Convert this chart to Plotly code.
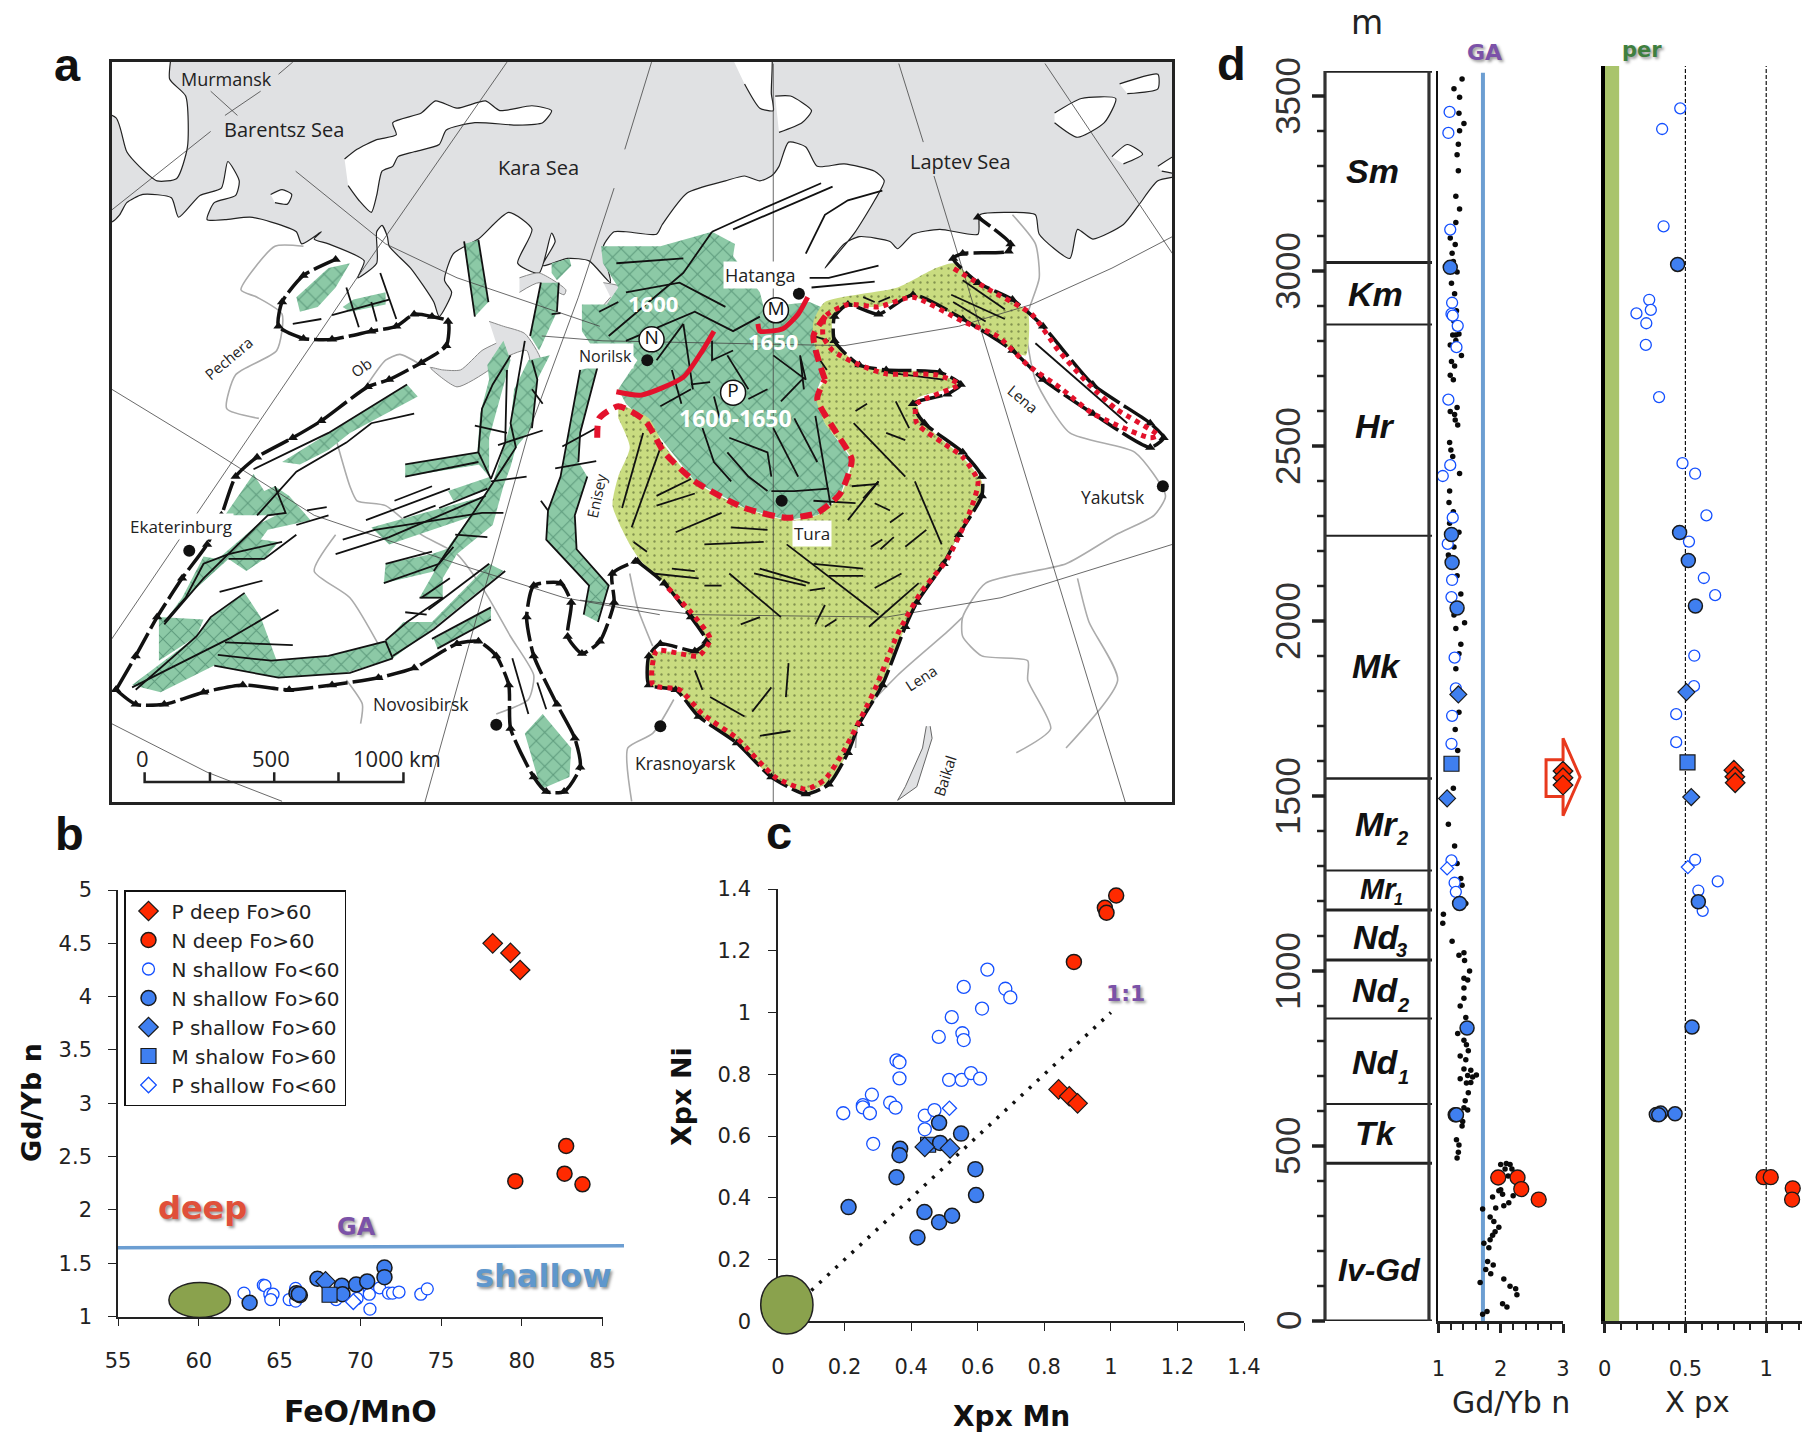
import plotly.graph_objects as go

W, H = 1802, 1435
FONT = "DejaVu Sans"
MAPF = "Open Sans"
ARIAL = "Liberation Sans"
BLUE = "#3f7ff0"
RED = "#ff2a00"
OPEN = "#1450ff"
INK = "#1a1a1a"

# ---------- panel b : FeO/MnO vs Gd/Yb n ----------
b_p_deep_x = [78.2, 79.3, 79.9]
b_p_deep_y = [4.50, 4.41, 4.25]
b_n_deep_x = [82.75, 79.6, 82.65, 83.76]
b_n_deep_y = [2.60, 2.27, 2.34, 2.24]
b_n_open_x = [62.8, 64.0, 64.1, 64.4, 64.6, 64.46, 65.6, 66.0, 66.0, 68.5, 69.8, 70.56, 70.56, 70.6, 71.2, 71.75, 72.0, 72.4, 73.75, 74.15]
b_n_open_y = [1.22, 1.295, 1.29, 1.21, 1.21, 1.16, 1.16, 1.265, 1.145, 1.16, 1.17, 1.245, 1.21, 1.07, 1.27, 1.22, 1.22, 1.23, 1.21, 1.26]
b_n_fill_x = [63.15, 66.05, 66.26, 66.2, 67.35, 68.86, 68.9, 69.75, 70.43, 71.5, 71.5]
b_n_fill_y = [1.13, 1.22, 1.20, 1.21, 1.355, 1.29, 1.21, 1.30, 1.33, 1.46, 1.37]
b_p_fill_x = [67.85]
b_p_fill_y = [1.33]
b_m_fill_x = [68.1]
b_m_fill_y = [1.205]
b_p_open_x = [69.57]
b_p_open_y = [1.14]
b_ga_x = [55, 86.33]
b_ga_y = [1.646, 1.665]

# ---------- panel c : Xpx Mn vs Xpx Ni ----------
c_n_deep_x = [1.016, 0.982, 0.987, 0.889]
c_n_deep_y = [1.379, 1.339, 1.323, 1.164]
c_p_deep_x = [0.843, 0.875, 0.90]
c_p_deep_y = [0.751, 0.729, 0.706]
c_n_open_x = [0.196, 0.255, 0.255, 0.282, 0.276, 0.286, 0.337, 0.353, 0.356, 0.365, 0.365, 0.441, 0.441, 0.47, 0.483, 0.522, 0.554, 0.558, 0.558, 0.514, 0.552, 0.58, 0.607, 0.613, 0.629, 0.683, 0.698]
c_n_open_y = [0.674, 0.70, 0.693, 0.734, 0.674, 0.575, 0.708, 0.692, 0.845, 0.839, 0.787, 0.666, 0.622, 0.684, 0.921, 0.985, 0.933, 0.911, 1.083, 0.782, 0.782, 0.804, 0.786, 1.013, 1.139, 1.077, 1.049]
c_p_open_x = [0.515]
c_p_open_y = [0.69]
c_n_fill_x = [0.212, 0.367, 0.365, 0.356, 0.484, 0.55, 0.487, 0.593, 0.595, 0.44, 0.484, 0.523, 0.419]
c_n_fill_y = [0.37, 0.559, 0.538, 0.467, 0.643, 0.608, 0.578, 0.493, 0.409, 0.354, 0.321, 0.342, 0.272]
c_p_fill_x = [0.441, 0.517]
c_p_fill_y = [0.565, 0.56]
c_m_fill_x = [0.451]
c_m_fill_y = [0.572]
c_line_x = [0.1, 1.0]
c_line_y = [0.1, 1.0]

# ---------- panel d : section ----------
strat_bounds = [0, 451, 620, 864, 1031, 1174, 1287, 1550, 2243, 2847, 3024, 3571]
strat_width = [3, 3, 2, 2, 3, 3, 2, 2.5, 2, 2, 3, 3.5]
d_dots_x = [1.36, 1.38, 1.25, 1.34, 1.33, 1.41, 1.34, 1.32, 1.30, 1.32, 1.28, 1.34, 1.28, 1.19, 1.27, 1.22, 1.24, 1.30, 1.21, 1.26, 1.24, 1.29, 1.25, 1.27, 1.23, 1.28, 1.33, 1.28, 1.19, 1.37, 1.21, 1.26, 1.19, 1.24, 1.30, 1.19, 1.26, 1.27, 1.31, 1.18, 1.20, 1.23, 1.34, 1.18, 1.17, 1.24, 1.18, 1.33, 1.25, 1.16, 1.19, 1.30, 1.36, 1.25, 1.42, 1.28, 1.36, 1.33, 1.28, 1.33,
            1.27, 1.31, 1.24, 1.16, 1.26, 1.30, 1.36, 1.38, 1.44, 1.08, 1.07, 1.22, 1.41, 1.33, 1.42, 1.50, 1.41, 1.47, 1.41, 1.41, 1.35, 1.44, 1.31, 1.41, 1.45, 1.48, 1.35, 1.44, 1.41, 1.52, 1.61, 1.47, 1.35, 1.55, 1.45, 1.52, 1.48, 1.43, 1.41, 1.47, 1.36, 1.39, 1.38, 1.29, 1.33, 1.32, 1.30,
            2.0, 2.09, 2.15, 2.07, 2.18, 2.12, 2.0, 2.03, 1.97, 1.87, 2.2, 2.13, 2.05, 1.92, 1.71, 1.83, 1.89, 1.97, 1.91, 1.87, 1.83, 1.73, 1.81, 1.79, 1.88, 1.76, 1.84, 1.67, 2.05, 2.15, 2.24, 2.26, 2.03, 2.10, 1.71, 1.78]
d_dots_m = [3573, 3548, 3520, 3496, 3450, 3421, 3400, 3362, 3332, 3286, 3213, 3177, 3138, 3094, 3075, 3050, 3027, 2997, 2965, 2935, 2902, 2886, 2856, 2837, 2817, 2817, 2820, 2801, 2788, 2758, 2741, 2728, 2702, 2689, 2610, 2598, 2590, 2574, 2560, 2510, 2488, 2470, 2421, 2371, 2338, 2312, 2279, 2253, 2211, 2188, 2159, 2129, 2077, 2017, 1995, 1978, 1933, 1906, 1863, 1739,
            1690, 1630, 1522, 1419, 1357, 1307, 1264, 1245, 1193, 1162, 1136, 1085, 1052, 1045, 1030, 1000, 979, 974, 951, 922, 900, 867, 821, 802, 789, 772, 757, 746, 720, 716, 703, 701, 692, 697, 680, 681, 652, 629, 609, 603, 586, 570, 557, 518, 503, 482, 466,
            447, 450, 447, 434, 434, 414, 375, 362, 372, 354, 358, 338, 329, 323, 320, 297, 284, 268, 255, 245, 232, 222, 209, 170, 160, 147, 135, 110, 120, 99, 92, 75, 49, 40, 19, 27]
d_open_gd = [1.18, 1.16, 1.19, 1.22, 1.21, 1.23, 1.31, 1.29, 1.16, 1.19, 1.07, 1.23, 1.15, 1.22, 1.21, 1.26, 1.28, 1.22, 1.21, 1.21, 1.26, 1.28]
d_open_gd_m = [3454, 3394, 3118, 2909, 2877, 2872, 2843, 2782, 2632, 2445, 2414, 2295, 2220, 2117, 2068, 1895, 1807, 1729, 1649, 1316, 1252, 1226]
d_fill_gd = [1.19, 1.21, 1.22, 1.30, 1.34, 1.46, 1.27, 1.29]
d_fill_gd_m = [3010, 2247, 2167, 2037, 1193, 837, 589, 589]
d_pfill_gd = [1.32, 1.14]
d_pfill_gd_m = [1790, 1493]
d_mfill_gd = [1.21]
d_mfill_gd_m = [1592]
d_popen_gd = [1.14]
d_popen_gd_m = [1293]
d_ndeep_gd = [1.96, 2.27, 2.33, 2.61]
d_ndeep_gd_m = [410, 410, 377, 347]
d_pdeep_gd = [3.0, 3.0, 3.0]
d_pdeep_gd_m = [1571, 1552, 1531]
d_ga_x = [1.715, 1.715]
d_ga_m = [0, 3566]

d_open_x = [0.468, 0.356, 0.365, 0.276, 0.286, 0.197, 0.258, 0.255, 0.337, 0.482, 0.56, 0.63, 0.522, 0.614, 0.684, 0.555, 0.553, 0.443, 0.443, 0.56, 0.70, 0.58, 0.607]
d_open_m = [3465, 3406, 3128, 2918, 2889, 2879, 2851, 2789, 2640, 2451, 2421, 2302, 2227, 2123, 2074, 1901, 1814, 1734, 1654, 1318, 1256, 1230, 1172]
d_fill_x = [0.452, 0.464, 0.518, 0.562, 0.58, 0.541, 0.32, 0.347, 0.335, 0.436]
d_fill_m = [3019, 2253, 2173, 2043, 1198, 840, 590, 594, 589, 592]
d_pfill_x = [0.506, 0.536]
d_pfill_m = [1797, 1497]
d_mfill_x = [0.513]
d_mfill_m = [1596]
d_popen_x = [0.515]
d_popen_m = [1297]
d_ndeep_x = [0.984, 1.028, 1.164, 1.16]
d_ndeep_m = [411, 411, 379, 347]
d_pdeep_x = [0.80, 0.806, 0.808]
d_pdeep_m = [1574, 1555, 1538]
d_per_x = [0, 0.09, 0.09, 0]
d_per_m = [0, 0, 3586, 3586]
d_dash_half_x = [0.5, 0.5, None, 1.0, 1.0]
d_dash_half_m = [0, 3586, None, 0, 3586]

ticks_m = [0, 500, 1000, 1500, 2000, 2500, 3000, 3500]
ticks_m_minor = [100, 200, 300, 400, 600, 700, 800, 900, 1100, 1200, 1300, 1400, 1600, 1700, 1800, 1900, 2100, 2200, 2300, 2400, 2600, 2700, 2800, 2900, 3100, 3200, 3300, 3400]
ticks_b_x = [55, 60, 65, 70, 75, 80, 85]
ticks_b_y = [1, 1.5, 2, 2.5, 3, 3.5, 4, 4.5, 5]
ticks_c = [0, 0.2, 0.4, 0.6, 0.8, 1, 1.2, 1.4]

# ---------- panel a : map features ----------
# W_* lists use the western crop grid, E_* lists the eastern crop grid
def wx(p): return 100 + 0.357 * p[0], 50 + 0.4847 * p[1]
def ex(p): return 580 + 0.3827 * p[0], 50 + 0.4847 * p[1]

def trace_xy(lines, f):
    xs, ys = [], []
    for ln in lines:
        for p in ln:
            a, b = f(p)
            xs.append(a); ys.append(b)
        xs.append(None); ys.append(None)
    return xs, ys

def merge(*pairs):
    xs, ys = [], []
    for a, b in pairs:
        xs += a; ys += b
    return xs, ys

W_COAST = [(33, 355), (55, 340), (75, 315), (120, 298), (200, 305), (220, 345), (280, 300), (340, 285), (358, 230), (390, 270), (380, 300), (320, 315), (300, 350), (350, 350), (420, 345), (480, 355), (550, 375), (565, 400), (620, 375), (600, 390), (640, 400), (740, 435), (722, 470), (775, 440), (775, 375), (790, 362), (805, 385), (810, 405), (870, 450), (935, 520), (950, 550), (985, 500), (965, 475), (990, 420), (1060, 390), (1145, 335), (1210, 370), (1170, 440), (1230, 460), (1265, 378), (1275, 395), (1240, 445), (1310, 430), (1370, 435), (1430, 480), (1410, 405), (1440, 375)]
E_COAST = [(120, 375), (200, 380), (215, 360), (280, 295), (380, 270), (430, 260), (470, 270), (500, 260), (520, 240), (545, 190), (590, 200), (620, 240), (690, 235), (770, 250), (795, 270), (770, 310), (715, 380), (640, 450), (690, 400), (730, 385), (810, 395), (830, 410), (870, 380), (940, 370), (1040, 380), (1045, 340), (1120, 335), (1190, 340), (1200, 380), (1280, 430), (1300, 370), (1340, 390), (1420, 360), (1460, 320), (1510, 270), (1600, 250)]
sea_x, sea_y = trace_xy([W_COAST], wx)
sea_x2, sea_y2 = trace_xy([E_COAST], ex)
sea_x = [80] + sea_x[:-1] + sea_x2[:-1] + [1240, 1240, 60, 60]
sea_y = [sea_y[0] + 8] + sea_y[:-1] + sea_y2[:-1] + [20, 20, 20, sea_y[0] + 8]

W_GULFS = [[(1090, 560), (1130, 570), (1190, 585), (1235, 640), (1215, 680), (1195, 620), (1120, 640), (1090, 660), (1000, 695), (925, 655), (960, 660), (1010, 660), (1070, 620), (1110, 605)],
           [(1175, 470), (1230, 460), (1305, 495), (1300, 505), (1230, 480), (1175, 500)],
           [(1410, 480), (1465, 490), (1450, 515), (1400, 545), (1420, 570), (1395, 545), (1430, 510)]]
W_ISLANDS = [[(20, -40), (200, -40), (195, 60), (240, 95), (245, 200), (215, 265), (160, 270), (110, 240), (75, 210), (45, 140), (-40, 120)],
             [(685, 225), (720, 205), (775, 185), (830, 175), (820, 150), (900, 130), (940, 105), (1000, 120), (1080, 105), (1120, 125), (1210, 115), (1265, 125), (1240, 150), (1170, 155), (1050, 150), (970, 165), (950, 195), (880, 210), (835, 220), (820, 240), (790, 250), (775, 300), (760, 335), (725, 310), (695, 280)],
             [(478, 298), (510, 288), (537, 298), (525, 318), (490, 315)]]
E_ISLANDS = [[(370, -30), (495, -30), (500, 90), (505, 125), (470, 120), (430, 70)],
             [(510, 95), (550, 95), (605, 125), (580, 150), (520, 170)],
             [(1240, 130), (1310, 100), (1400, 100), (1370, 150), (1300, 180), (1240, 150)],
             [(1410, 70), (1510, 50), (1510, 80), (1430, 90)],
             [(1390, 220), (1430, 195), (1470, 215), (1420, 235)],
             [(1510, 240), (1590, 205), (1590, 255), (1520, 250)]]
E_BAIKAL = [[(915, 1395), (920, 1420), (880, 1520), (830, 1548), (850, 1520), (895, 1440), (905, 1395)]]

W_GRID = [[(548, 250), (800, 400), (1000, 470), (1400, 570)], [(33, 700), (300, 820), (600, 960), (1000, 1060), (1300, 1130), (1568, 1165)],
          [(33, 1390), (300, 1490), (510, 1550)], [(1140, 25), (720, 470), (33, 1215)], [(1545, 25), (1470, 205)], [(1440, 285), (1340, 510), (1200, 790), (910, 1552)],
          [(310, 85), (385, 135)], [(450, 85), (350, 135)], [(310, 168), (33, 330)], [(540, 25), (500, 50)]]
E_GRID = [[(-100, 590), (60, 600), (690, 610), (990, 570), (1180, 525), (1390, 450), (1548, 385)], [(0, 1135), (300, 1165), (800, 1170), (1100, 1130), (1548, 1020)],
          [(505, 28), (505, 1552)], [(833, 28), (897, 190)], [(925, 260), (1425, 1552)], [(1215, 28), (1548, 420)]]
W_RIVERS = [[(570, 405), (490, 405), (395, 495), (440, 510), (510, 545), (495, 620), (380, 670), (355, 740), (445, 760)],
            [(740, 700), (800, 640), (840, 628), (900, 650)], [(660, 800), (700, 900), (720, 930), (800, 940), (900, 1000), (1000, 1040), (1080, 1120), (1150, 1210), (1215, 1290), (1200, 1340), (1110, 1370)],
            [(660, 1000), (600, 1075), (700, 1130), (790, 1240)], [(690, 1300), (735, 1350), (730, 1390)]]
E_RIVERS = [[(130, 1080), (150, 1150), (190, 1230)], [(245, 1340), (190, 1410), (125, 1440), (135, 1550)],
            [(1130, 340), (1190, 400), (1200, 470), (1165, 560), (1190, 680), (1280, 790), (1450, 830), (1530, 920), (1500, 960), (1400, 1000), (1270, 1060), (1060, 1100), (1000, 1170), (1000, 1210), (1050, 1250), (1170, 1260), (1170, 1300), (1230, 1400), (1140, 1450)],
            [(1300, 1090), (1330, 1180), (1405, 1300), (1270, 1440)], [(720, 1440), (730, 1380), (830, 1290), (960, 1200), (1000, 1170)],
            [(200, 1250), (240, 1275), (380, 1265), (500, 1275), (530, 1245), (605, 1235), (610, 1330), (570, 1350), (585, 1390), (630, 1400), (635, 1500)]]

W_GREEN = [[(550, 510), (640, 450), (700, 440), (660, 490), (610, 530), (560, 540)],
           [(680, 530), (710, 515), (800, 500), (800, 525), (700, 540)],
           [(1020, 400), (1060, 392), (1088, 520), (1050, 550)],
           [(90, 1310), (270, 1210), (310, 1170), (405, 1120), (450, 1170), (495, 1260), (640, 1250), (800, 1220), (850, 1180), (930, 1180), (1090, 1060), (1130, 1075), (930, 1195), (820, 1255), (690, 1285), (500, 1295), (320, 1270), (170, 1325)],
           [(165, 1170), (290, 1175), (270, 1210), (165, 1260)],
           [(510, 850), (640, 790), (860, 690), (890, 715), (700, 790), (640, 825), (560, 855)],
           [(350, 960), (430, 875), (460, 910), (490, 900), (530, 920), (590, 970), (470, 990), (450, 1010), (500, 1015), (460, 1050), (410, 1075), (360, 1050), (240, 1130), (180, 1180), (230, 1130), (290, 1045), (330, 1050), (440, 980), (520, 950), (490, 960)],
           [(1130, 600), (1150, 640), (1120, 720), (1090, 800), (1090, 880), (1055, 850), (1065, 750), (1090, 680), (1085, 650)],
           [(1200, 640), (1260, 630), (1225, 680), (1210, 780), (1165, 820), (1100, 895), (1135, 810), (1150, 770), (1160, 700)],
           [(1235, 480), (1285, 480), (1280, 540), (1230, 620), (1205, 590)],
           [(1265, 440), (1315, 430), (1320, 445), (1280, 475), (1265, 460)],
           [(855, 855), (1060, 830), (1065, 855), (855, 880)],
           [(1100, 895), (1165, 820), (1150, 860), (1130, 900), (1100, 980), (1000, 1040), (960, 1090), (960, 1130), (895, 1130), (980, 1020), (1050, 950)],
           [(760, 985), (860, 965), (1080, 920), (1090, 950), (810, 1020)],
           [(975, 910), (1095, 880), (1095, 905), (990, 930)],
           [(800, 1060), (930, 1040), (990, 1025), (940, 1075), (795, 1100)],
           [(935, 1215), (1095, 1150), (1095, 1175), (945, 1235)],
           [(1345, 660), (1395, 650), (1345, 790), (1340, 850), (1365, 880), (1330, 960), (1335, 1030), (1425, 1105), (1395, 1180), (1355, 1165), (1370, 1105), (1250, 1010), (1255, 950), (1290, 880), (1310, 800)],
           [(1190, 1410), (1240, 1370), (1320, 1440), (1315, 1500), (1235, 1525)]]
E_GREEN = [[(5, 525), (70, 525), (100, 490), (60, 440), (55, 405), (210, 405), (345, 375), (405, 400), (400, 425), (470, 500), (480, 530), (600, 520), (630, 530), (610, 600), (640, 660), (615, 710), (640, 770), (710, 845), (680, 920), (620, 960), (540, 970), (430, 945), (300, 890), (200, 790), (120, 730), (100, 700), (150, 640), (115, 610), (30, 610), (5, 580)]]
E_YELLOW = [[(100, 730), (180, 760), (215, 810), (300, 890), (430, 945), (540, 970), (620, 960), (680, 920), (710, 845), (640, 770), (615, 710), (640, 680), (610, 600), (610, 560), (640, 520), (830, 490), (930, 450), (975, 440), (1040, 480), (1130, 520), (1170, 540), (1165, 630), (1130, 620), (1080, 590), (1000, 555), (870, 510), (780, 530), (700, 530), (660, 550), (665, 600), (730, 650), (800, 660), (930, 665), (990, 690), (960, 700), (880, 720), (900, 770), (1000, 840), (1050, 890), (1050, 920), (990, 1000), (950, 1060), (880, 1140), (850, 1190), (790, 1310), (730, 1390), (700, 1450), (650, 1510), (590, 1530), (500, 1500), (410, 1430), (310, 1370), (250, 1320), (185, 1310), (180, 1245), (290, 1240), (330, 1220), (290, 1170), (220, 1100), (160, 1055), (130, 1020), (85, 940), (100, 880), (130, 820), (100, 760)]]

W_FAULTS = [[(430, 865), (640, 790), (860, 690)], [(440, 960), (550, 870), (690, 810), (760, 770), (880, 750)], [(180, 1185), (290, 1090), (470, 960), (520, 955), (490, 900)],
            [(100, 1320), (270, 1210), (310, 1170), (405, 1120)], [(335, 1118), (455, 1095)], [(90, 1315), (360, 1215), (500, 1155)], [(350, 1222), (540, 1228)],
            [(330, 1248), (480, 1260), (640, 1250), (800, 1220), (820, 1255)], [(320, 1270), (500, 1295), (700, 1285), (820, 1255)], [(800, 1218), (860, 1180), (960, 1130)],
            [(820, 1250), (935, 1195), (1135, 1075)], [(920, 1155), (1090, 1060)], [(930, 1215), (1095, 1150)], [(945, 1235), (1095, 1175)],
            [(825, 930), (930, 900)], [(745, 970), (980, 905)], [(850, 965), (940, 940)], [(950, 945), (1085, 905)], [(855, 855), (1060, 830)], [(855, 880), (1060, 850)],
            [(680, 1010), (770, 990), (1070, 955), (1130, 955)], [(660, 1040), (810, 1005), (1080, 920)], [(800, 1060), (930, 1035)], [(795, 1100), (950, 1060), (990, 1025)],
            [(1050, 775), (1140, 790)], [(1115, 815), (1240, 785)], [(1095, 890), (1195, 880)], [(995, 1000), (1085, 1005)],
            [(1150, 630), (1100, 690), (1070, 740), (1060, 830), (1095, 885), (1135, 810), (1140, 660)], [(1190, 600), (1150, 770), (1165, 820), (1100, 895), (1050, 950), (985, 1020), (935, 1075)],
            [(1210, 640), (1225, 680), (1210, 780)], [(1210, 700), (1240, 730)], [(895, 1130), (960, 1130)], [(855, 1160), (915, 1165)], [(980, 1090), (900, 1130)],
            [(1020, 395), (1050, 550)], [(1060, 392), (1088, 520)], [(1235, 480), (1205, 590)], [(1285, 480), (1280, 540)], [(1265, 545), (1290, 543)],
            [(1345, 660), (1310, 800), (1290, 880), (1255, 950), (1250, 1010), (1370, 1105), (1355, 1165)], [(1395, 650), (1345, 790), (1340, 850)], [(1365, 880), (1330, 960), (1335, 1030), (1425, 1105), (1395, 1180)], [(1235, 930), (1255, 950)],
            [(1295, 818), (1390, 780)], [(1275, 863), (1390, 848)], [(540, 565), (620, 555)], [(650, 547), (810, 515)], [(690, 490), (725, 572)], [(785, 460), (830, 555)], [(760, 520), (775, 560)],
            [(1155, 1255), (1200, 1370)], [(1225, 1305), (1250, 1360)], [(580, 950), (635, 943)], [(550, 980), (640, 960)], [(180, 1180), (240, 1130), (290, 1060), (360, 1040), (510, 1015)], [(360, 1050), (460, 1050), (550, 1000)]]
E_FAULTS = [[(345, 375), (470, 330), (630, 275)], [(400, 370), (660, 282)], [(590, 420), (640, 340), (700, 310), (790, 290)], [(600, 470), (650, 470), (780, 445)], [(605, 490), (770, 478)],
            [(95, 440), (270, 430)], [(345, 375), (270, 460), (180, 520), (75, 590)], [(50, 540), (100, 520)], [(120, 500), (260, 480), (380, 530)], [(120, 600), (240, 560), (300, 540), (400, 580), (470, 550)],
            [(200, 640), (270, 565)], [(270, 565), (295, 700)], [(345, 600), (345, 640), (400, 620)], [(385, 630), (440, 700)], [(505, 630), (590, 680), (575, 630), (585, 700)], [(440, 720), (490, 700)], [(525, 725), (580, 680)],
            [(240, 660), (265, 730)], [(290, 690), (340, 685)], [(350, 715), (365, 760)], [(210, 735), (290, 700)], [(320, 780), (350, 850), (395, 890)], [(390, 800), (490, 830), (500, 880)], [(505, 780), (570, 880)], [(385, 830), (440, 880), (490, 910)],
            [(560, 760), (620, 850)], [(615, 755), (655, 940)], [(500, 910), (560, 910), (650, 905)], [(610, 930), (720, 935)], [(700, 970), (780, 890)], [(710, 900), (780, 895)],
            [(165, 790), (110, 945)], [(215, 810), (135, 985)], [(200, 920), (290, 885)], [(200, 940), (300, 915)], [(250, 995), (370, 955)], [(395, 985), (490, 990)], [(325, 1020), (480, 1015)], [(140, 1015), (175, 1035)],
            [(190, 1080), (310, 1090)], [(240, 1070), (300, 1075)], [(325, 1105), (370, 1105)], [(390, 1080), (525, 1170)], [(470, 1070), (600, 1100)], [(455, 1080), (590, 1105)], [(600, 1115), (640, 1110)], [(540, 1020), (780, 1165)],
            [(610, 1060), (740, 1070)], [(650, 1085), (740, 1085)], [(755, 1190), (885, 1100)], [(770, 1110), (840, 1080)], [(640, 1145), (615, 1185)], [(640, 1190), (670, 1175)], [(420, 1185), (470, 1170)],
            [(715, 770), (850, 880)], [(720, 745), (750, 730)], [(800, 790), (850, 805)], [(825, 725), (860, 780)], [(875, 890), (945, 1020)], [(740, 925), (780, 890)], [(770, 935), (810, 950)], [(810, 975), (845, 955)], [(850, 1025), (905, 990)], [(785, 1030), (820, 1005)], [(760, 1025), (790, 1010)],
            [(300, 1280), (320, 1320)], [(340, 1335), (430, 1375)], [(450, 1365), (500, 1315)], [(545, 1265), (538, 1335)], [(470, 1415), (550, 1405)], [(970, 505), (1110, 555)], [(975, 520), (1060, 560)], [(1000, 475), (1110, 535)], [(1190, 605), (1430, 770)],
            [(740, 510), (770, 520)], [(780, 520), (810, 510)], [(610, 590), (650, 600)], [(610, 620), (645, 660)], [(800, 665), (950, 680)]]

W_RIFT = [[(45, 1320), (100, 1350), (180, 1350), (290, 1325), (400, 1310), (530, 1320), (650, 1310), (780, 1295), (880, 1275), (1000, 1225), (1060, 1220), (1110, 1250), (1145, 1310), (1150, 1400), (1215, 1500), (1250, 1530), (1300, 1530), (1345, 1480), (1330, 1420), (1280, 1350), (1215, 1250), (1195, 1170), (1215, 1105), (1290, 1100), (1320, 1140), (1310, 1210), (1350, 1245), (1400, 1220), (1440, 1140), (1435, 1080), (1500, 1055)],
          [(45, 1320), (100, 1250), (160, 1170), (230, 1090), (300, 1020), (340, 960), (380, 880), (440, 840), (540, 800), (620, 765), (750, 695), (810, 680), (900, 645), (970, 610), (975, 560), (930, 550), (880, 545), (830, 570), (760, 580), (650, 597), (570, 595), (500, 570), (510, 520), (570, 465), (660, 432)]]
E_RIFT = [[(150, 1055), (220, 1100), (290, 1170), (330, 1220), (300, 1240), (210, 1225), (180, 1250), (180, 1310), (250, 1320), (310, 1375), (410, 1430), (500, 1500), (590, 1535), (650, 1515), (700, 1450), (730, 1390), (790, 1310), (850, 1190), (880, 1140), (950, 1060), (990, 1000), (1050, 920), (1050, 880), (1000, 830), (900, 770), (870, 730), (960, 710), (995, 690), (940, 665), (800, 660), (730, 650), (665, 600), (665, 550), (700, 525), (780, 545), (870, 505), (1000, 555), (1130, 620), (1210, 680), (1340, 750), (1490, 820), (1525, 800), (1490, 770), (1340, 690), (1210, 570), (1130, 515), (1040, 480), (975, 430), (1000, 420), (1120, 415), (1125, 400), (1040, 345)]]
E_RED_DOT = [[(230, 1110), (290, 1160), (340, 1215), (310, 1250), (200, 1240), (190, 1310), (260, 1320), (320, 1370), (410, 1420), (510, 1500), (590, 1525), (640, 1505), (690, 1445), (770, 1320), (830, 1205), (890, 1120), (960, 1050), (1020, 950), (1040, 890), (1000, 840), (880, 770), (880, 730), (990, 690), (930, 670), (800, 668), (730, 650), (660, 620), (635, 590), (640, 550), (700, 525), (780, 530), (870, 510), (1000, 560), (1090, 590), (1170, 650), (1260, 700), (1340, 750), (1490, 800), (1510, 795), (1400, 740), (1330, 690), (1250, 620), (1180, 545), (1070, 495), (975, 450)]]
E_RED_DASH = [[(45, 800), (50, 760), (100, 735), (170, 765), (220, 830), (300, 890), (430, 945), (540, 965), (620, 955), (680, 915), (710, 845), (670, 790), (620, 720), (640, 680)], [(640, 680), (610, 590), (650, 540)]]
E_RED_SOLID = [[(95, 705), (160, 712), (270, 675), (320, 620), (350, 580)], [(465, 565), (470, 580), (530, 575), (570, 545), (595, 510)]]
W_TOWNS = [(250, 1033), (1533, 640), (1110, 1392)]
E_TOWNS = [(210, 1395), (527, 930), (1523, 900), (572, 503)]
E_SITES = [(187, 597), (512, 537), (400, 707)]
SITE_NAMES = ["N", "M", "P"]
W_SCALE = [[(125, 1490), (125, 1510), (308, 1510), (308, 1490), (308, 1510), (488, 1510), (488, 1490), (488, 1510), (668, 1510), (668, 1490), (668, 1510), (850, 1510), (850, 1490)]]

fig = go.Figure()

def mp(xy, name="map", **kw):
    fig.add_trace(go.Scatter(x=xy[0], y=xy[1], xaxis="x", yaxis="y", showlegend=False, hoverinfo="skip", cliponaxis=True, **kw))

LAND = "#ffffff"
SP = dict(shape="spline", smoothing=0.6)
mp((sea_x, sea_y), mode="lines", fill="toself", fillcolor="#e0e1e3", line=dict(color="#222", width=1.2, **SP))
mp(trace_xy(W_GULFS, wx), mode="lines", fill="toself", fillcolor="#e0e1e3", line=dict(color="#888", width=1, **SP))
mp(merge(trace_xy(W_ISLANDS, wx), trace_xy(E_ISLANDS, ex)), mode="lines", fill="toself", fillcolor=LAND, line=dict(color="#222", width=1.2, **SP))
mp(trace_xy(E_BAIKAL, ex), mode="lines", fill="toself", fillcolor="#e0e1e3", line=dict(color="#666", width=1))
mp(merge(trace_xy(W_RIVERS, wx), trace_xy(E_RIVERS, ex)), mode="lines", line=dict(color="#ababab", width=1.6, **SP))
mp(merge(trace_xy(W_GREEN, wx), trace_xy(E_GREEN, ex)), mode="lines", fill="toself", line=dict(width=0),
   fillcolor="#8cc9a6", fillpattern=dict(shape="x", size=12, solidity=0.16, fgcolor="#2e6b52", bgcolor="#8cc9a6"))
mp(trace_xy(E_YELLOW, ex), mode="lines", fill="toself", line=dict(width=0, **SP),
   fillcolor="#c9dc80", fillpattern=dict(shape=".", size=7, solidity=0.09, fgcolor="#3b4a1f", bgcolor="#c9dc80"))
mp(merge(trace_xy(W_GRID, wx), trace_xy(E_GRID, ex)), mode="lines", line=dict(color="#444", width=0.8))
mp(merge(trace_xy(W_FAULTS, wx), trace_xy(E_FAULTS, ex)), mode="lines", line=dict(color="#111", width=1.8))
rift = merge(trace_xy(W_RIFT, wx), trace_xy(E_RIFT, ex))
mp(rift, mode="lines", line=dict(color="#111", width=3.5, dash="30px,5px", **SP))
mp(rift, mode="markers", marker=dict(symbol="triangle-up", size=9, color="#111"))
mp(trace_xy(E_RED_DOT, ex), mode="lines", line=dict(color="#e3122c", width=5, dash="5px,5px", **SP))
mp(trace_xy(E_RED_DASH, ex), mode="lines", line=dict(color="#e3122c", width=6, dash="12px,7px", **SP))
mp(trace_xy(E_RED_SOLID, ex), mode="lines", line=dict(color="#e3122c", width=5, **SP))
mp(merge(trace_xy([W_TOWNS], wx), trace_xy([E_TOWNS], ex)), mode="markers", marker=dict(size=12, color="#111"))
mp(trace_xy(W_SCALE, wx), mode="lines", line=dict(color="#222", width=2.5))
sx, sy = trace_xy([E_SITES], ex)
mp((sx[:-1], sy[:-1]), mode="markers+text", text=SITE_NAMES, textposition="middle center", textfont=dict(family=MAPF, size=19, color="#111"),
   marker=dict(size=25, color="white", line=dict(color="#111", width=1.5)))

def pts(x, y, ax, sym, size, color, lw, lc, name=None, rank=None, clip=False):
    fig.add_trace(go.Scatter(x=x, y=y, xaxis=ax[0], yaxis=ax[1], mode="markers", name=name or "", showlegend=name is not None,
                             legendgroup=name, legendrank=rank or 1000, cliponaxis=clip, hoverinfo="skip",
                             marker=dict(symbol=sym, size=size, color=color, line=dict(color=lc, width=lw))))

# panel b
fig.add_trace(go.Scatter(x=b_ga_x, y=b_ga_y, xaxis="x7", yaxis="y2", mode="lines", line=dict(color="#6c9ed2", width=3.5), showlegend=False, cliponaxis=False, hoverinfo="skip"))
AB = ("x2", "y2")
pts(b_n_open_x, b_n_open_y, AB, "circle", 12, "white", 1.3, OPEN, "N shallow Fo<60", 3)
pts(b_n_fill_x, b_n_fill_y, AB, "circle", 15, BLUE, 1.5, INK, "N shallow Fo>60", 4)
pts(b_p_fill_x, b_p_fill_y, AB, "diamond", 15, BLUE, 1.2, INK, "P shallow Fo>60", 5)
pts(b_m_fill_x, b_m_fill_y, AB, "square", 15, BLUE, 1.2, INK, "M shalow Fo>60", 6)
pts(b_p_open_x, b_p_open_y, AB, "diamond", 12, "white", 1.3, OPEN, "P shallow Fo<60", 7)
pts(b_p_deep_x, b_p_deep_y, AB, "diamond", 15, RED, 1.2, INK, "P deep Fo>60", 1)
pts(b_n_deep_x, b_n_deep_y, AB, "circle", 15, RED, 1.5, INK, "N deep Fo>60", 2)

# panel c
AC = ("x3", "y3")
fig.add_trace(go.Scatter(x=c_line_x, y=c_line_y, xaxis="x3", yaxis="y3", mode="lines", line=dict(color="#111", width=3.5, dash="3px,8px"), showlegend=False, cliponaxis=False, hoverinfo="skip"))
pts(c_n_open_x, c_n_open_y, AC, "circle", 13, "white", 1.3, OPEN)
pts(c_p_open_x, c_p_open_y, AC, "diamond", 11, "white", 1.3, OPEN)
pts(c_m_fill_x, c_m_fill_y, AC, "square", 15, BLUE, 1.2, INK)
pts(c_n_fill_x, c_n_fill_y, AC, "circle", 15, BLUE, 1.5, INK)
pts(c_p_fill_x, c_p_fill_y, AC, "diamond", 15, BLUE, 1.2, INK)
pts(c_p_deep_x, c_p_deep_y, AC, "diamond", 15, RED, 1.2, INK)
pts(c_n_deep_x, c_n_deep_y, AC, "circle", 15, RED, 1.5, INK)

# panel d, section
for m, lw in zip(strat_bounds, strat_width):
    fig.add_trace(go.Scatter(x=[0, 1.029], y=[m, m], xaxis="x4", yaxis="y4", mode="lines", line=dict(color="#222", width=lw), showlegend=False, cliponaxis=False, hoverinfo="skip"))
fig.add_trace(go.Scatter(x=[1, 1, None, 0, 0], y=[0, strat_bounds[-1], None, 0, strat_bounds[-1]], xaxis="x4", yaxis="y4", mode="lines", line=dict(color="#333", width=3.2), showlegend=False, cliponaxis=False, hoverinfo="skip"))

# panel d, Gd/Yb
AD = ("x5", "y5")
fig.add_trace(go.Scatter(x=d_ga_x, y=d_ga_m, xaxis="x5", yaxis="y5", mode="lines", line=dict(color="#6c9ed2", width=4), showlegend=False, cliponaxis=False, hoverinfo="skip"))
pts(d_dots_x, d_dots_m, AD, "circle", 5.5, "#0a0a0a", 0, "#000")
pts(d_open_gd, d_open_gd_m, AD, "circle", 11, "white", 1.3, OPEN)
pts(d_fill_gd, d_fill_gd_m, AD, "circle", 14, BLUE, 1.5, INK)
pts(d_pfill_gd, d_pfill_gd_m, AD, "diamond", 13, BLUE, 1.2, INK)
pts(d_mfill_gd, d_mfill_gd_m, AD, "square", 15, BLUE, 1.2, INK)
pts(d_popen_gd, d_popen_gd_m, AD, "diamond", 10, "white", 1.3, OPEN)
pts(d_ndeep_gd, d_ndeep_gd_m, AD, "circle", 15, RED, 1.3, INK)
pts(d_pdeep_gd, d_pdeep_gd_m, AD, "diamond", 15, RED, 1.3, INK)

# panel d, X px
AE = ("x6", "y6")
fig.add_trace(go.Scatter(x=d_per_x, y=d_per_m, xaxis="x6", yaxis="y6", mode="lines", fill="toself", fillcolor="#a9c46c", line=dict(width=0), showlegend=False, hoverinfo="skip"))
fig.add_trace(go.Scatter(x=d_dash_half_x, y=d_dash_half_m, xaxis="x6", yaxis="y6", mode="lines", line=dict(color="#111", width=1.2, dash="4px,2px"), showlegend=False, hoverinfo="skip"))
pts(d_open_x, d_open_m, AE, "circle", 11, "white", 1.3, OPEN)
pts(d_fill_x, d_fill_m, AE, "circle", 14, BLUE, 1.5, INK)
pts(d_pfill_x, d_pfill_m, AE, "diamond", 13, BLUE, 1.2, INK)
pts(d_mfill_x, d_mfill_m, AE, "square", 15, BLUE, 1.2, INK)
pts(d_popen_x, d_popen_m, AE, "diamond", 10, "white", 1.3, OPEN)
pts(d_ndeep_x, d_ndeep_m, AE, "circle", 15, RED, 1.3, INK)
pts(d_pdeep_x, d_pdeep_m, AE, "diamond", 15, RED, 1.3, INK)

def dx(a, b): return [a / W, b / W]
def dy(top, bot): return [1 - bot / H, 1 - top / H]

def base(**kw):
    d = dict(showgrid=False, zeroline=False, showline=True, linecolor="#222", linewidth=1.6, ticks="outside",
             tickcolor="#222", tickwidth=1.4, ticklen=8, tickfont=dict(family=FONT, size=21, color="#222"))
    d.update(kw)
    return d

hidden = dict(showgrid=False, zeroline=False, showticklabels=False, ticks="")

layout = dict(
    width=W, height=H, margin=dict(l=0, r=0, t=0, b=0, pad=0, autoexpand=False), paper_bgcolor="white", plot_bgcolor="rgba(0,0,0,0)", autosize=False, hovermode=False,
    # map
    xaxis=dict(hidden, domain=dx(112, 1172), range=[112, 1172], showline=True, mirror=True, linecolor="#222", linewidth=3),
    yaxis=dict(hidden, domain=dy(62, 802), range=[802, 62], showline=True, mirror=True, linecolor="#222", linewidth=3),
    # b
    xaxis2=base(domain=dx(118, 602.5), range=[55, 85], tickvals=ticks_b_x, anchor="y2", ticklabelstandoff=16),
    yaxis2=base(domain=dy(890, 1316.6), range=[1, 5], tickvals=ticks_b_y, anchor="x2", ticklabelstandoff=12),
    xaxis7=dict(hidden, domain=dx(118, 624), range=[55, 86.33], anchor="y2", showline=False),
    # c
    xaxis3=base(domain=dx(778, 1244), range=[0, 1.4], tickvals=ticks_c, anchor="y3", ticklabelstandoff=18),
    yaxis3=base(domain=dy(889, 1321.4), range=[0, 1.4], tickvals=ticks_c, anchor="x3", ticklabelstandoff=13),
    # strat
    xaxis4=dict(hidden, domain=dx(1312, 1432), range=[-0.125, 1.029], anchor="y4", showline=False),
    yaxis4=dict(hidden, domain=dy(71, 1321), range=[0, 3571], anchor="x4", showline=False),
    # Gd/Yb
    xaxis5=base(domain=dx(1438.4, 1563), range=[1, 3], tickmode="linear", tick0=1, dtick=1, anchor="y5", linewidth=3, tickwidth=2.5, ticklen=9, ticklabelstandoff=18,
                minor=dict(tick0=1, dtick=0.2, ticks="outside", ticklen=6, tickwidth=2, tickcolor="#222")),
    yaxis5=dict(hidden, domain=dy(71, 1321), range=[0, 3571], anchor="x5", showline=True, linecolor="#111", linewidth=1.6),
    # X px
    xaxis6=base(domain=dx(1604.6, 1802), range=[0, 1.2214], tickmode="linear", tick0=0, dtick=0.5, anchor="y6", linewidth=3, tickwidth=2.5, ticklen=9, ticklabelstandoff=18,
                minor=dict(tick0=0, dtick=0.1, ticks="outside", ticklen=6, tickwidth=2, tickcolor="#222")),
    yaxis6=dict(hidden, domain=dy(66, 1321), range=[0, 3586], anchor="x6", showline=True, linecolor="#000", linewidth=4),
    legend=dict(x=124 / W, y=1 - 890 / H, xanchor="left", yanchor="top", bgcolor="white", bordercolor="#111", borderwidth=1.5,
                font=dict(family=FONT, size=20, color="#222"), tracegroupgap=7, itemclick=False, itemdoubleclick=False, itemwidth=36,
                entrywidth=212, entrywidthmode="pixels", traceorder="normal"),
)

def A(t, x, y, size, color="#222", family=FONT, angle=0, bg=None, shadow=None):
    f = dict(family=family, size=size, color=color)
    if shadow:
        f["shadow"] = shadow
    return dict(text=t, x=x / W, y=1 - y / H, xref="paper", yref="paper", showarrow=False, xanchor="center", yanchor="middle",
                font=f, textangle=angle, bgcolor=bg, borderpad=1 if bg else 0)

def Zw(t, x, y, s, **k):
    a, b = wx((x, y)); return A(t, a, b, s, family=MAPF, **k)
def Ze(t, x, y, s, **k):
    a, b = ex((x, y)); return A(t, a, b, s, family=MAPF, **k)

SH = "2px 2px 3px #999"
anns = [
    A("<b>a</b>", 67, 65, 47, "#111", ARIAL), A("<b>b</b>", 69, 833, 47, "#111", ARIAL), A("<b>c</b>", 779, 832, 47, "#111", ARIAL), A("<b>d</b>", 1231, 64, 47, "#111", ARIAL),
    Zw("Murmansk", 355, 60, 18), Zw("Barentsz Sea", 515, 165, 20), Zw("Kara Sea", 1228, 243, 20), Ze("Laptev Sea", 995, 230, 20),
    Ze("Hatanga", 472, 465, 18, bg="white"), Zw("Norilsk", 1415, 632, 16, bg="white"), Ze("Tura", 607, 997, 17, bg="white"),
    Zw("Ekaterinburg", 228, 983, 17, bg="white"), Zw("Novosibirsk", 900, 1350, 17.5), Ze("Krasnoyarsk", 276, 1470, 17.5), Ze("Yakutsk", 1393, 923, 17.5),
    Zw("Pechera", 360, 635, 15, angle=-40), Zw("Ob", 733, 655, 15, angle=-35), Zw("Enisey", 1390, 920, 15, angle=-78), Ze("Lena", 1158, 720, 15, angle=40), Ze("Lena", 890, 1295, 15, angle=-33), Ze("Baikal", 953, 1498, 15, angle=-72),
    Ze("<b>1600</b>", 190, 523, 22, color="white"), Ze("<b>1650</b>", 505, 600, 22, color="white"), Ze("<b>1600-1650</b>", 406, 760, 23, color="white"),
    Zw("0", 120, 1460, 22), Zw("500", 480, 1460, 22), Zw("1000 km", 832, 1460, 22),
    A("<b>Gd/Yb n</b>", 31, 1103, 27, "#111", angle=-90), A("<b>FeO/MnO</b>", 360, 1411, 30, "#111"),
    A("<b>Xpx Ni</b>", 681, 1097, 27, "#111", angle=-90), A("<b>Xpx Mn</b>", 1011, 1416, 28, "#111"),
    A("<b>deep</b>", 202, 1208, 32, "#e0503a", shadow=SH), A("<b>shallow</b>", 543, 1276, 32, "#5f97cc", shadow=SH), A("<b>GA</b>", 356, 1227, 24, "#7b52a8", shadow=SH),
    A("<b>1:1</b>", 1125, 993, 22, "#7b52a8", shadow=SH), A("<b>GA</b>", 1484, 53, 22, "#7b52a8", shadow=SH), A("<b>per</b>", 1642, 50, 21, "#3f7f3f", shadow=SH),
    A("m", 1367, 22, 33, "#222"), A("Gd/Yb n", 1511, 1402, 30, "#222"), A("X px", 1697, 1402, 29, "#222"),
]
for txt, x, y, s in [("Sm", 1372, 171, 34), ("Km", 1375, 294, 34), ("Hr", 1375, 426, 34), ("Mk", 1376, 666, 34),
                     ("Mr", 1376, 824, 34), ("2", 1402, 838, 20), ("Mr", 1378, 889, 29), ("1", 1398, 900, 16),
                     ("Nd", 1376, 937, 34), ("3", 1401, 950, 20), ("Nd", 1375, 990, 34), ("2", 1403, 1005, 20),
                     ("Nd", 1375, 1062, 34), ("1", 1403, 1077, 20), ("Tk", 1376, 1133, 34), ("Iv-Gd", 1379, 1270, 32)]:
    anns.append(A(f"<b><i>{txt}</i></b>", x, y, s, "#111", ARIAL))
for m in ticks_m:
    anns.append(dict(text=str(m), x=1288 / W, y=m, xref="paper", yref="y4", showarrow=False, xanchor="center", yanchor="middle",
                     textangle=-90, font=dict(family=ARIAL, size=35, color="#333")))
layout["annotations"] = anns

def ellipse(x0, x1, y0, y1):
    return dict(type="circle", xref="paper", yref="paper", x0=x0 / W, x1=x1 / W, y0=1 - y0 / H, y1=1 - y1 / H,
                fillcolor="#8aa24d", line=dict(color="#222", width=1.5), layer="above")

def m_tick(m, left, lw):
    return dict(type="line", xref="paper", yref="paper", x0=left / W, x1=1325 / W, y0=1 - (1321 - 0.35 * m) / H, y1=1 - (1321 - 0.35 * m) / H,
                line=dict(color="#222", width=lw), layer="above")

arrow_z = [(890, 87), (935, 87), (935, 40), (980, 125), (935, 210), (935, 168), (890, 168)]
arrow_p = [(1210 + 0.3776 * a, 720 + 0.456 * b) for a, b in arrow_z]
path = "M " + " L ".join(f"{a / W:.5f},{1 - b / H:.5f}" for a, b in arrow_p) + " Z"
layout["shapes"] = [
    ellipse(168.9, 230.5, 1282.5, 1317.5),
    ellipse(760.7, 813, 1275.5, 1334),
    dict(type="path", path=path, xref="paper", yref="paper", line=dict(color="#e8391d", width=3), fillcolor="white", layer="below"),
] + [m_tick(m, 1312, 3.5) for m in ticks_m] + [m_tick(m, 1317, 2.5) for m in ticks_m_minor]
fig.update_layout(**layout)
fig.write_html("out.html", config={"displayModeBar": False}, post_script="document.body.style.margin='0';document.documentElement.style.overflow='hidden';")
